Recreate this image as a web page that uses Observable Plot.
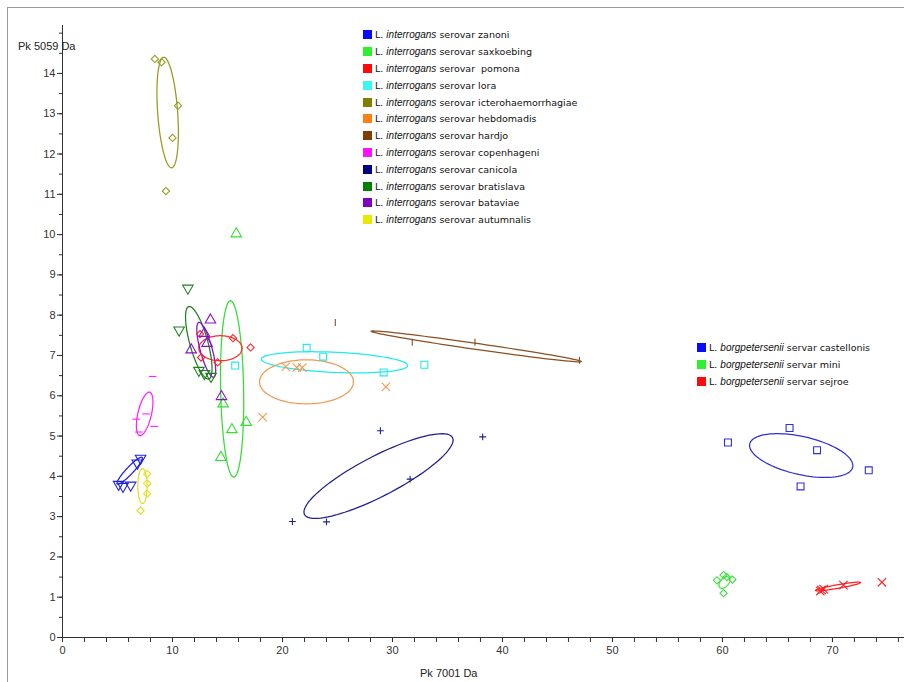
<!DOCTYPE html>
<html><head><meta charset="utf-8">
<script src="https://cdn.jsdelivr.net/npm/d3@7"></script>
<script src="https://cdn.jsdelivr.net/npm/@observablehq/plot@0.6"></script>
<style>
body{margin:0;background:#fff;overflow:hidden;}
#wrap{position:relative;width:904px;height:682px;overflow:hidden;background:#fff;}
#frame{position:absolute;left:7px;top:7px;width:1000px;height:1000px;border:1px solid #9a9a9a;pointer-events:none;}
#chart{position:absolute;left:0;top:0;}
.leg{position:absolute;font-family:"DejaVu Sans",sans-serif;font-size:9.5px;color:#111;}
.row{height:16.8px;display:flex;align-items:center;white-space:pre;}
.sw{width:9px;height:9px;margin-right:3px;flex:none;}
.it{font-family:"Liberation Sans Narrow","Liberation Sans",sans-serif;font-style:italic;font-size:10px;}
.ttl{position:absolute;font-family:"Liberation Sans",Arial,sans-serif;font-size:11px;color:#222;white-space:pre;}
</style></head>
<body>
<div id="wrap">
  <div id="chart"></div>
  <div id="frame"></div>
  <div class="leg" id="leg1" style="left:363px;top:26.6px;"></div>
  <div class="leg" id="leg2" style="left:697px;top:339.6px;"></div>
  <div class="ttl" style="left:18px;top:40px;">Pk 5059 Da</div>
  <div class="ttl" style="left:420px;top:667px;font-family:'Liberation Sans Narrow','Liberation Sans',sans-serif;">Pk 7001 Da</div>
</div>
<script>
// ---------- data ----------
const groups = ["zanoni","saxkoebing","pomona","lora","icterohaemorrhagiae","hebdomadis","hardjo","copenhageni","canicola","bratislava","bataviae","autumnalis","castellonis","mini","sejroe"];
const species = ["interrogans","interrogans","interrogans","interrogans","interrogans","interrogans","interrogans","interrogans","interrogans","interrogans","interrogans","interrogans","borgpetersenii","borgpetersenii","borgpetersenii"];
const legendColors = ["#0a0aff","#2ef02e","#ff0a0a","#3cf5f5","#7f7f00","#ff8010","#7f3f00","#ff10ff","#00007f","#007f00","#7f00bf","#e8e800","#0a0aff","#2ef02e","#ff0a0a"];
const markColors   = ["#2020e0","#33dd33","#ff2a2a","#22eaea","#9a9a20","#f09a50","#8a5020","#ff22ff","#202090","#208020","#8a10c8","#e0e020","#3030d8","#40e040","#ff2020"];
const symbolsUsed  = ["triDown","triangle","diamond","square","diamond","times","vbar","hbar","plus","triDown","triangle","diamond","square","diamond","times"];

// points: [x, y] per group (Pk 7001 Da, Pk 5059 Da)
const ptsZanoni = [[5.1,3.8],[5.5,3.75],[6.2,3.78],[6.8,4.33],[7.1,4.45]];
const ptsSaxkoebing = [[15.8,10.02],[14.6,5.8],[15.4,5.16],[16.7,5.34],[14.4,4.47]];
const ptsPomona = [[12.5,7.53],[15.5,7.43],[17.1,7.2],[12.6,6.95],[14.1,6.83]];
const ptsLora = [[22.2,7.19],[23.7,6.97],[29.2,6.58],[32.9,6.77],[15.7,6.75]];
const ptsIctero = [[8.4,14.36],[9.0,14.28],[10.5,13.2],[10.0,12.4],[9.4,11.08]];
const ptsHebdomadis = [[20.3,6.72],[21.3,6.7],[21.8,6.7],[29.4,6.22],[18.2,5.47]];
const ptsHardjo = [[24.8,7.82],[31.8,7.33],[37.5,7.33],[47.0,6.88]];
const ptsCopenhageni = [[8.2,6.48],[6.7,5.42],[7.6,5.55],[8.35,5.24],[6.95,5.1]];
const ptsCanicola = [[28.9,5.13],[31.6,3.93],[20.9,2.88],[24.0,2.87],[38.2,4.98]];
const ptsBratislava = [[11.4,8.67],[10.6,7.63],[12.4,6.63],[13.5,6.48],[12.9,6.55]];
const ptsBataviae = [[13.45,7.88],[13.15,7.3],[11.7,7.14],[12.9,7.55],[14.45,5.98]];
const ptsAutumnalis = [[7.7,4.06],[7.7,3.82],[7.7,3.57],[7.1,3.15]];
const ptsCastellonis = [[66.1,5.2],[60.5,4.84],[68.6,4.65],[67.1,3.75],[73.3,4.15]];
const ptsMini = [[60.1,1.55],[59.5,1.42],[60.9,1.44],[60.1,1.1],[60.4,1.5]];
const ptsSejroe = [[69.0,1.18],[69.2,1.2],[68.9,1.15],[71.0,1.3],[74.5,1.37]];
const allPts = [ptsZanoni,ptsSaxkoebing,ptsPomona,ptsLora,ptsIctero,ptsHebdomadis,ptsHardjo,ptsCopenhageni,ptsCanicola,ptsBratislava,ptsBataviae,ptsAutumnalis,ptsCastellonis,ptsMini,ptsSejroe];

// ellipses: centre (cx, cy) and two semi-axis vectors (ax, ay), (bx, by), data units
const ellCx = [6.11,15.42,14.36,24.73,9.56,22.18,37.62,7.47,28.73,12.39,13.07,7.27,67.16,60.18,70.5];
const ellCy = [4.14,6.17,7.18,6.83,13.03,6.345,7.225,5.55,4.007,7.315,7.14,3.76,4.516,1.365,1.266];
const ellAx = [1.136,0.15,1.97,6.65,0.35,4.27,9.56,0.4545,6.727,0.909,0.68,0,4.68,0.5,2.045];
const ellAy = [0.33,-2.19,0,-0.08,-1.372,0,-0.376,0.538,0.955,-0.898,-0.68,0.434,-0.29,0.08,0.099];
const ellBx = [0.232,1.045,0,0,0.91,0,-0.039,0.6,0.84,-0.79,-0.526,0.427,-0.385,0.05,0.029];
const ellBy = [-0.06,0,0.31,0.25,0,0.546,-0.074,-0.037,-0.44,-0.06,-0.039,0,-0.46,-0.12,-0.044];

const xTicksMinor = d3.range(0, 77, 2);
const xTicksMajor = [0,10,20,30,40,50,60,70];
const yTicksMinor = d3.range(0, 15.01, 0.5);
const yTicksMajor = [0,1,2,3,4,5,6,7,8,9,10,11,12,13,14];

// ---------- symbols ----------
const sqrt3 = Math.sqrt(3);
const symbolDefs = {
  triangle: d3.symbolTriangle,
  square: d3.symbolSquare,
  diamond: {draw(ctx, size){ const r = Math.sqrt(size)/2*1.05; ctx.moveTo(0,-r); ctx.lineTo(r,0); ctx.lineTo(0,r); ctx.lineTo(-r,0); ctx.closePath(); } },
  times: d3.symbolTimes,
  plus: {draw(ctx, size){ const r = Math.sqrt(size)/2; ctx.moveTo(-r,0); ctx.lineTo(r,0); ctx.moveTo(0,-r); ctx.lineTo(0,r);} },
  triDown: {draw(ctx, size){ const y = -Math.sqrt(size/(sqrt3*3)); ctx.moveTo(0,-y*2); ctx.lineTo(-sqrt3*y, y); ctx.lineTo(sqrt3*y, y); ctx.closePath(); } },
  vbar: {draw(ctx, size){ const r = Math.sqrt(size)/2; ctx.moveTo(0,-r); ctx.lineTo(0,r);} },
  hbar: {draw(ctx, size){ const r = Math.sqrt(size)/2*1.1; ctx.moveTo(-r,0); ctx.lineTo(r,0);} }
};

// ---------- build ----------
const ellipsePts = [];
groups.forEach((g,i)=>{
  for (let k=0;k<=90;k++){
    const t = 2*Math.PI*k/90;
    ellipsePts.push({g, c: markColors[i],
      x: ellCx[i] + ellAx[i]*Math.cos(t) + ellBx[i]*Math.sin(t),
      y: ellCy[i] + ellAy[i]*Math.cos(t) + ellBy[i]*Math.sin(t)});
  }
});

const dotMarks = groups.map((g,i)=> Plot.dot(allPts[i].map(p=>({x:p[0],y:p[1]})), {
  x:"x", y:"y", r: 3.9, symbol: symbolDefs[symbolsUsed[i]], stroke: markColors[i], fill:"none", strokeWidth: 1.1
}));

const chart = Plot.plot({
  width: 904, height: 682,
  marginLeft: 62, marginRight: 0, marginTop: 25, marginBottom: 45,
  x: {domain:[0,76.55], label:null},
  y: {domain:[0,15.19], label:null},
  color: {type:"identity"},
  style: {fontFamily:"'Liberation Sans', Arial, sans-serif", fontSize:"11px", background:"transparent", color:"#333"},
  marks: [
    Plot.line(ellipsePts, {x:"x", y:"y", z:"g", stroke:"c", strokeWidth:1.25, curve:"linear"}),
    ...dotMarks,
    Plot.ruleY([0], {stroke:"#333"}),
    Plot.ruleX([0], {stroke:"#333"}),
    Plot.axisX({ticks: xTicksMinor, tickSize: 5, tickFormat: ()=>"", label:null, stroke:"#333"}),
    Plot.axisX({ticks: xTicksMajor, tickSize: 5, tickPadding: 4, label:null, stroke:"#333", fill:"#333",
      fontFamily:"'Liberation Sans Narrow', 'Liberation Sans', sans-serif", fontSize: 11}),
    Plot.axisY({ticks: yTicksMinor, tickSize: 3, tickFormat: ()=>"", label:null, stroke:"#333"}),
    Plot.axisY({ticks: yTicksMajor, tickSize: 5, tickPadding: 2, label:null, stroke:"#333", fill:"#333", fontSize: 11})
  ]
});
document.getElementById("chart").appendChild(chart);

// ---------- legends ----------
function addRow(el, i){
  const row = document.createElement("div"); row.className = "row";
  const sw = document.createElement("div"); sw.className = "sw"; sw.style.background = legendColors[i];
  row.appendChild(sw);
  const word = species[i] === "interrogans" ? "serovar" : "servar";
  const sep = groups[i] === "pomona" ? "  " : " ";
  const span = document.createElement("span");
  span.innerHTML = `L. <span class="it">${species[i]}</span> ${word}${sep}${groups[i]}`;
  row.appendChild(span);
  el.appendChild(row);
}
const leg1 = document.getElementById("leg1"), leg2 = document.getElementById("leg2");
groups.forEach((g,i)=>{ addRow(species[i]==="interrogans" ? leg1 : leg2, i); });
</script>
</body></html>
